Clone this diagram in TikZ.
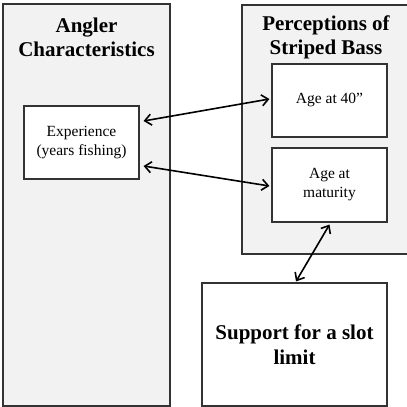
\documentclass[tikz,border=0pt]{standalone}
\usepackage{fontspec}
\setmainfont{Liberation Serif}
\usetikzlibrary{arrows.meta}
\definecolor{panel}{HTML}{F2F2F2}
\definecolor{edge}{HTML}{333333}
\begin{document}
\begin{tikzpicture}[x=1pt,y=-1pt,
  panelbox/.style={draw=edge, line width=1.1pt, fill=panel, rectangle, inner sep=0pt},
  itembox/.style={draw=edge, line width=1.1pt, fill=white, rectangle, inner sep=0pt, align=center,
     font=\fontsize{15.5}{19}\selectfont},
  titletext/.style={align=center, font=\fontsize{21}{24}\selectfont\bfseries, inner sep=0pt},
  link/.style={{Straight Barb[length=6.5pt,width=11pt]}-{Straight Barb[length=6.5pt,width=11pt]}, line width=1.6pt, black}]
\useasboundingbox (0,0) rectangle (407,407);
\clip (0,0) rectangle (407,407);
\node[panelbox, minimum width=167pt, minimum height=402pt] (left) at (86.5,205) {};
\node[panelbox, minimum width=170pt, minimum height=249pt] (right) at (327,129.5) {};
\node[titletext] (lt) at (86.5,37) {Angler\\Characteristics};
\node[titletext] (rt) at (326,37) {Perceptions of\\Striped Bass};
\node[itembox, minimum width=115pt, minimum height=73pt] (age) at (329.5,100.5) {Age at 40”};
\node[itembox, minimum width=115pt, minimum height=74pt] (mat) at (329.5,185) {Age at\\maturity};
\node[itembox, minimum width=115pt, minimum height=73pt] (exp) at (81.5,142.5) {Experience\\(years fishing)};
\node[itembox, minimum width=185pt, minimum height=123pt, font=\fontsize{21}{25}\selectfont\bfseries] (sup) at (294.5,344.5) {Support for a slot\\limit};
\draw[link] ([xshift=4pt,yshift=21.5pt]exp.east) -- ([xshift=-2pt,yshift=1.5pt]age.west);
\draw[link] ([xshift=4pt,yshift=-23.5pt]exp.east) -- ([xshift=-2pt,yshift=-1pt]mat.west);
\draw[link] ([yshift=-2pt]mat.south) -- ([xshift=1.5pt,yshift=1pt]sup.north);
\end{tikzpicture}
\end{document}
